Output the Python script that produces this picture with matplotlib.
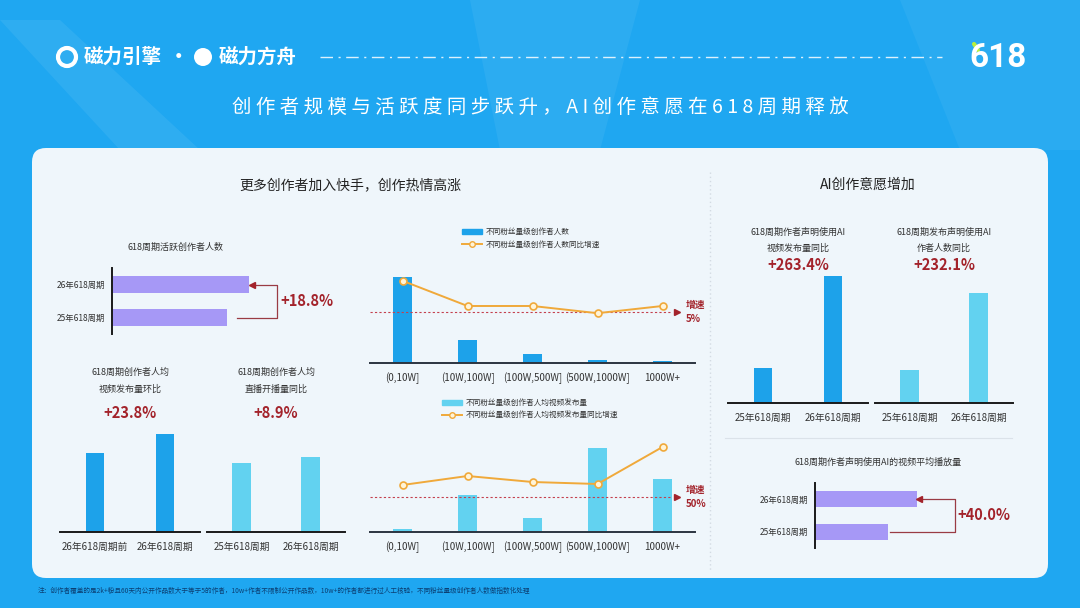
import matplotlib.pyplot as plt
from matplotlib.patches import FancyBboxPatch, Patch, Polygon
from matplotlib.lines import Line2D

plt.rcParams['font.family'] = ['Noto Sans CJK SC', 'DejaVu Sans']

# ---- data (index values) ----
active_labels = ['25年618周期', '26年618周期']
active_vals = [100, 118.8]
video_labels = ['26年618周期前', '26年618周期']
video_vals = [100, 123.8]
live_labels = ['25年618周期', '26年618周期']
live_vals = [100, 108.9]
fan_cats = ['(0,10W]', '(10W,100W]', '(100W,500W]', '(500W,1000W]', '1000W+']
fan_creators = [100, 27, 10.5, 3.5, 2.3]
fan_creators_growth = [10.2, 6.0, 6.0, 4.8, 6.0]
fan_video = [3.5, 44, 16.5, 100, 63]
fan_video_growth = [74, 92, 80, 76, 150]
ai_labels = ['25年618周期', '26年618周期']
ai_video_vals = [100, 363.4]
ai_author_vals = [100, 332.1]
ai_play_vals = [100, 140.0]

W, H = 1080, 608
RED = '#a3232b'
BLUE = '#1da2ea'
CYAN = '#62d2f0'
LAV = '#a698f6'
ORANGE = '#f0a93a'

fig = plt.figure(figsize=(10.8, 6.08), dpi=100)
fig.patch.set_facecolor('#1fa7f1')

# background layer in pixel coordinates
bg = fig.add_axes([0, 0, 1, 1])
bg.set_xlim(0, W)
bg.set_ylim(H, 0)
bg.axis('off')
bg.add_patch(Polygon([[0, 20], [60, 20], [200, 150], [120, 150]], closed=True, fc='white', alpha=0.07, ec='none'))
bg.add_patch(Polygon([[470, 0], [640, 0], [600, 150], [500, 150]], closed=True, fc='white', alpha=0.06, ec='none'))
bg.add_patch(Polygon([[900, 0], [1080, 0], [1080, 150], [960, 150]], closed=True, fc='white', alpha=0.05, ec='none'))
bg.add_patch(FancyBboxPatch((32, 148), 1016, 430, boxstyle='round,pad=0,rounding_size=14',
                            fc='#eff6fb', ec='none'))

# header
bg.add_patch(plt.Circle((67, 57), 9, fc='none', ec='white', lw=3))
bg.text(84, 57, '磁力引擎', color='white', fontsize=14, fontweight='bold', va='center')
bg.text(178, 57, '·', color='white', fontsize=14, fontweight='bold', va='center', ha='center')
bg.add_patch(plt.Circle((203, 57), 9, fc='white', ec='none'))
bg.text(219, 57, '磁力方舟', color='white', fontsize=14, fontweight='bold', va='center')
bg.plot([320, 942], [57, 57], color='white', alpha=0.85, lw=1, ls=(0, (9, 4, 1.5, 4)))
bg.text(998, 58, '618', color='white', fontsize=24, fontweight='bold', family='Roboto',
        ha='center', va='center')
bg.plot([974, 978], [44, 50], color='#b8f03c', lw=3, solid_capstyle='round')

title = '创作者规模与活跃度同步跃升，AI创作意愿在618周期释放'
bg.text(540, 107, ' '.join(title), color='white', fontsize=14, ha='center', va='center')

# section titles and dividers
bg.text(350, 185, '更多创作者加入快手，创作热情高涨', color='#222222', fontsize=10, ha='center', va='center')
bg.text(868, 185, 'AI创作意愿增加', color='#222222', fontsize=10, ha='center', va='center')
bg.plot([710, 710], [172, 570], color='#d3dbe3', lw=1, ls=(0, (1, 2)))
bg.plot([725, 1012], [438, 438], color='#dbe2e9', lw=0.8)

bg.text(38, 591, '注：创作者覆盖的是2k+粉且60天内公开作品数大于等于5的作者，10w+作者不限制公开作品数，'
        '10w+的作者都进行过人工核验，不同粉丝量级创作者人数做指数化处理',
        color='#0b3f73', fontsize=4.8, va='center')


def box(x0, y0, x1, y1):
    ax = fig.add_axes([x0 / W, 1 - y1 / H, (x1 - x0) / W, (y1 - y0) / H])
    ax.patch.set_alpha(0)
    return ax


def hbar_panel(rect, labels, vals, xmax, right, gap, pct):
    ax = box(*rect)
    ax.barh([0, 1], vals, height=0.5, color=LAV)
    ax.set_ylim(-0.5, 1.5)
    ax.set_xlim(0, xmax)
    ax.set_xticks([])
    ax.set_yticks([0, 1], labels)
    ax.tick_params(axis='y', length=0, pad=5, labelsize=6, labelcolor='#333333')
    for s in ['top', 'right', 'bottom']:
        ax.spines[s].set_visible(False)
    ax.spines['left'].set_color('#1a1a1a')
    ax.spines['left'].set_linewidth(1.4)
    v25, v26 = vals
    tip = v26 + xmax * 0.02
    ax.plot([tip + xmax * 0.015, right, right, v25 + gap], [1, 1, 0, 0],
            color='#9a3b44', lw=0.9, clip_on=False)
    ax.plot(tip, 1, marker='<', color=RED, ms=4.5, clip_on=False)
    ax.text(right + xmax * 0.02, 0.5, pct, color=RED, fontsize=10.5, fontweight='bold',
            ha='left', va='center')
    return ax


def vbar_panel(rect, labels, vals, ymax, color, lines, pct, pct_y):
    ax = box(*rect)
    ax.bar([0, 1], vals, width=0.27, color=color)
    ax.set_xlim(-0.5, 1.5)
    ax.set_ylim(0, ymax)
    ax.set_yticks([])
    ax.set_xticks([0, 1], labels)
    ax.tick_params(axis='x', length=0, pad=7, labelsize=7, labelcolor='#333333')
    for s in ['top', 'right', 'left']:
        ax.spines[s].set_visible(False)
    ax.spines['bottom'].set_color('#1a1a1a')
    ax.spines['bottom'].set_linewidth(1.4)
    cx = (rect[0] + rect[2]) / 2
    for (txt, y) in lines:
        bg.text(cx, y, txt, color='#333333', fontsize=6.5, ha='center', va='center')
    bg.text(cx, pct_y, pct, color=RED, fontsize=10.5, fontweight='bold', ha='center', va='center')
    return ax


def combo_panel(rect, cats, bars, growth, bar_top, g_lim, ref, ref_txt, color,
                legend_xy, legend_labels):
    ax = box(*rect)
    x = list(range(len(cats)))
    ax.bar(x, bars, width=0.28, color=color)
    ax.set_xlim(-0.5, len(cats) - 0.5)
    ax.set_ylim(0, bar_top)
    ax.set_yticks([])
    ax.set_xticks(x, cats)
    ax.tick_params(axis='x', length=0, pad=7, labelsize=7, labelcolor='#333333')
    for s in ['top', 'right', 'left']:
        ax.spines[s].set_visible(False)
    ax.spines['bottom'].set_color('#2b3440')
    ax.spines['bottom'].set_linewidth(1.4)
    ax2 = ax.twinx()
    ax2.set_ylim(*g_lim)
    ax2.axis('off')
    ax2.axhline(ref, xmin=0, xmax=0.93, color='#c4404e', lw=0.8, ls=(0, (2, 2)))
    ax2.plot(4.22, ref, marker='>', color=RED, ms=4.5, clip_on=False)
    ax2.plot(x, growth, color=ORANGE, lw=1.4, marker='o', ms=5, mfc='#fff4d8', mec=ORANGE, mew=1.2)
    ax2.text(4.36, ref, ref_txt, color=RED, fontsize=7, fontweight='bold', ha='left',
             va='center', linespacing=1.5)
    handles = [Patch(color=color), Line2D([0], [0], color=ORANGE, lw=1.4, marker='o', ms=4,
                                          mfc='#fff4d8', mec=ORANGE)]
    fig.legend(handles, legend_labels, loc='upper left',
               bbox_to_anchor=(legend_xy[0] / W, 1 - legend_xy[1] / H), frameon=False,
               fontsize=5.5, handlelength=2.6, handleheight=0.6, labelspacing=0.6,
               borderaxespad=0, borderpad=0, handletextpad=0.5, labelcolor='#333333')
    return ax


# left column
bg.text(176, 247, '618周期活跃创作者人数', color='#333333', fontsize=6.5, ha='center', va='center')
hbar_panel((112, 268, 262, 334), active_labels, active_vals, 130, 143, 8, '+18.8%')

vbar_panel((60, 420, 200, 532), video_labels, video_vals, 142, BLUE,
           [('618周期创作者人均', 372), ('视频发布量环比', 389)], '+23.8%', 413)
vbar_panel((207, 420, 345, 532), live_labels, live_vals, 162, CYAN,
           [('618周期创作者人均', 372), ('直播开播量同比', 389)], '+8.9%', 413)

# middle column
combo_panel((370, 265, 695, 363), fan_cats, fan_creators, fan_creators_growth, 114, (-3.5, 12.83),
            5, '增速\n5%', BLUE, (462, 228), ['不同粉丝量级创作者人数', '不同粉丝量级创作者人数同比增速'])
combo_panel((370, 440, 695, 532), fan_cats, fan_video, fan_video_growth, 109.5, (-20, 164),
            50, '增速\n50%', CYAN, (442, 399),
            ['不同粉丝量级创作者人均视频发布量', '不同粉丝量级创作者人均视频发布量同比增速'])

# right column
vbar_panel((728, 270, 868, 403), ai_labels, ai_video_vals, 380, BLUE,
           [('618周期作者声明使用AI', 232), ('视频发布量同比', 248)], '+263.4%', 265)
vbar_panel((875, 270, 1013, 403), ai_labels, ai_author_vals, 403, CYAN,
           [('618周期发布声明使用AI', 232), ('作者人数同比', 248)], '+232.1%', 265)

bg.text(878, 462, '618周期作者声明使用AI的视频平均播放量', color='#333333', fontsize=6.5,
        ha='center', va='center')
hbar_panel((815, 483, 925, 548), ai_labels, ai_play_vals, 151, 192, 3, '+40.0%')

fig.savefig('out.png', dpi=100, facecolor=fig.get_facecolor())
